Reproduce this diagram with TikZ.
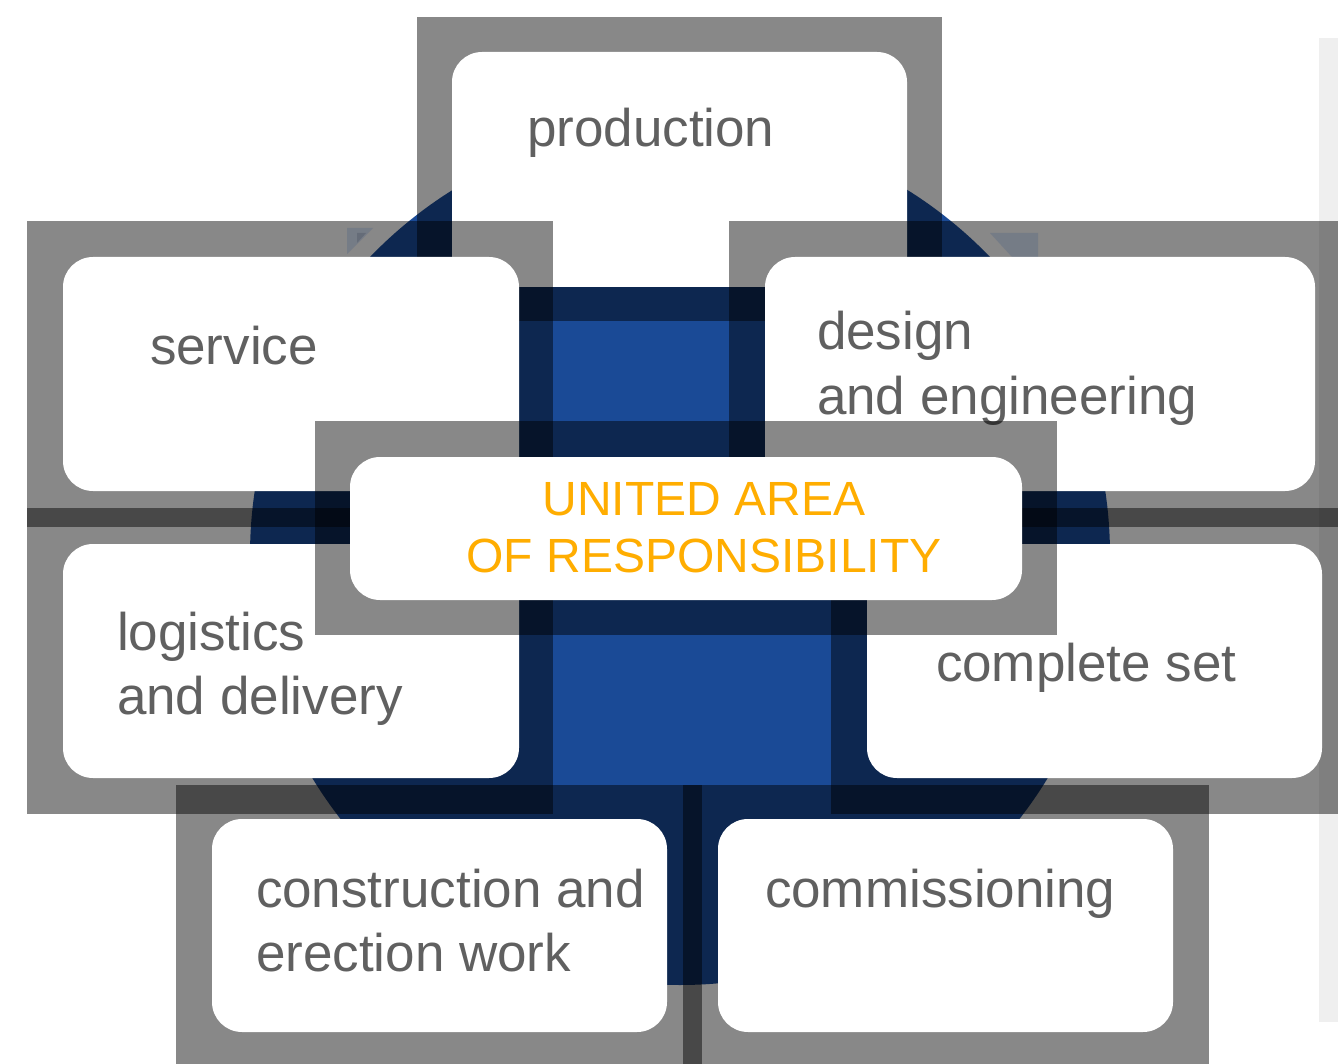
\documentclass[tikz,border=0pt]{standalone}
\usepackage{fontspec}
\setmainfont{Liberation Sans}
\definecolor{circblue}{RGB}{26,74,150}
\definecolor{txtgrey}{RGB}{96,96,96}
\definecolor{uaorange}{RGB}{255,173,0}
\definecolor{barlight}{RGB}{239,239,239}
\definecolor{hidlight}{RGB}{221,233,253}
\definecolor{hiddark}{RGB}{191,203,225}
\begin{document}
\begin{tikzpicture}[x=1pt,y=-1pt,
  frame/.style={fill=black,fill opacity=0.467,draw=none},
  wbox/.style={rectangle,fill=white,draw=none,rounded corners=30pt,inner sep=0pt,outer sep=0pt},
  lbl/.style={text=txtgrey,font=\fontsize{53}{64}\selectfont,anchor=base west,inner sep=0pt,outer sep=0pt},
  ctr/.style={text=uaorange,font=\fontsize{48}{57}\selectfont,anchor=base,inner sep=0pt,outer sep=0pt}]
\useasboundingbox (0,0) rectangle (1338,1064);
\fill[white] (0,0) rectangle (1338,1064);
% light side bar
\fill[barlight] (1319,38) rectangle (1338,1022);
% big blue disc
\fill[circblue] (680,555) circle[radius=430];
% hidden light shapes peeking through frames
\fill[hidlight] (347,228) -- (373,228) -- (347,254) -- cycle;
\fill[hiddark] (357,233) -- (366,233) -- (357,243) -- cycle;
\fill[hidlight] (990,233) -- (1038,233) -- (1038,257) -- (1012,257) -- cycle;
% production
\fill[frame] (417,17) rectangle (942,321);
\node[wbox,minimum width=455pt,minimum height=235pt] (prod) at (679.5,169.5) {};
\node[lbl] (prodT) at (527,147) {production};
% service
\fill[frame] (27,221) rectangle (553,527);
\node[wbox,minimum width=456pt,minimum height=234pt] (serv) at (291,374) {};
\node[lbl] (servT) at (150,364) {service};
% design and engineering
\fill[frame] (729,221) rectangle (1338,527);
\node[wbox,minimum width=550pt,minimum height=234pt] (desg) at (1040,374) {};
\node[lbl] (desgT) at (817,350) {\begin{tabular}[t]{@{}l@{}}design\\and engineering\end{tabular}};
% logistics and delivery
\fill[frame] (27,508) rectangle (553,814);
\node[wbox,minimum width=456pt,minimum height=234pt] (logi) at (291,661) {};
\node[lbl] (logiT) at (117,650) {\begin{tabular}[t]{@{}l@{}}logistics\\and delivery\end{tabular}};
% complete set
\fill[frame] (831,508) rectangle (1338,814);
\node[wbox,minimum width=455pt,minimum height=234pt] (comp) at (1094.5,661) {};
\node[lbl] (compT) at (936,681) {complete set};
% construction and erection work
\fill[frame] (176,785) rectangle (702,1064);
\node[wbox,minimum width=455pt,minimum height=213pt] (cons) at (439.5,925.5) {};
\node[lbl] (consT) at (256,907) {\begin{tabular}[t]{@{}l@{}}construction and\\erection work\end{tabular}};
% commissioning
\fill[frame] (683,785) rectangle (1209,1064);
\node[wbox,minimum width=455pt,minimum height=213pt] (comm) at (945.5,925.5) {};
\node[lbl] (commT) at (765,907) {commissioning};
% centre
\fill[frame] (315,421) rectangle (1057,635);
\node[wbox,minimum width=672pt,minimum height=143pt] (unit) at (686,528.5) {};
\node[ctr] (unitT) at (704,515) {\begin{tabular}[t]{@{}c@{}}UNITED AREA\\OF RESPONSIBILITY\end{tabular}};
\end{tikzpicture}
\end{document}
